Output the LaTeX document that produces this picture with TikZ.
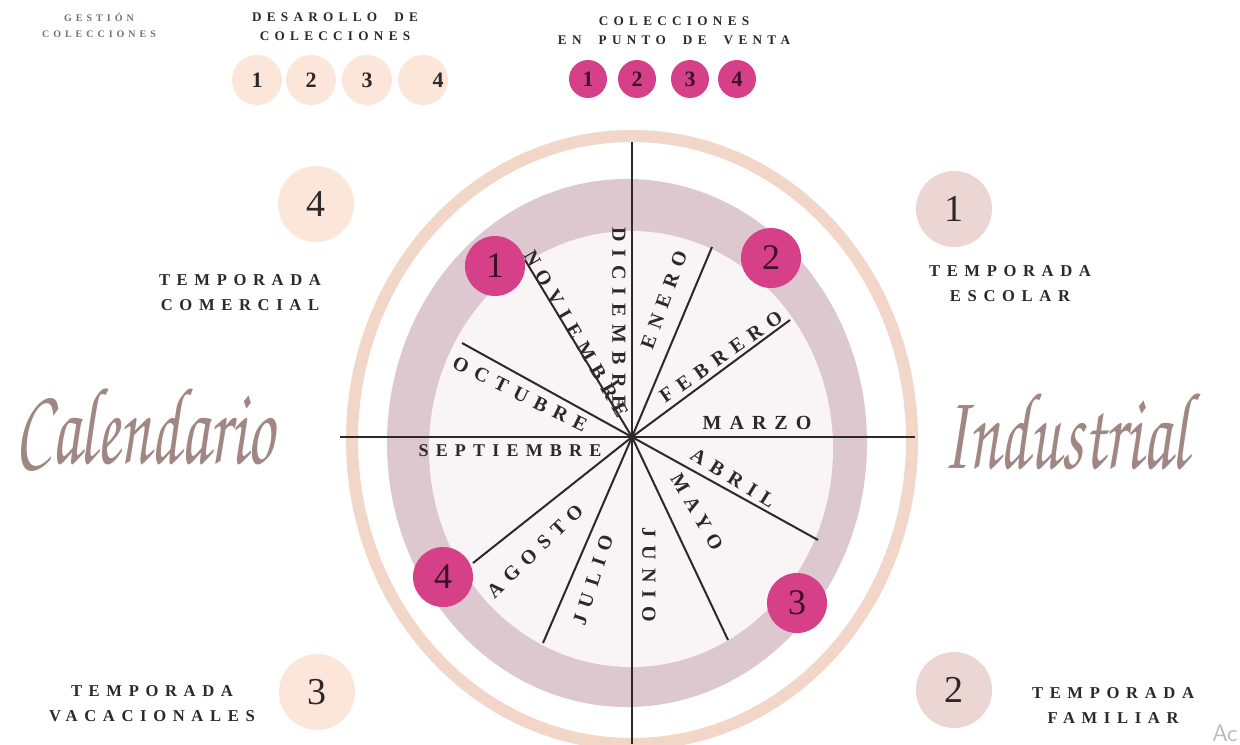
\documentclass[tikz,border=0pt]{standalone}
\usepackage[T1]{fontenc}
\usepackage{fontspec}
\setmainfont{Liberation Serif}
\newfontfamily\trackfont[LetterSpace=40]{Liberation Serif}
\newcommand\handfont{\fontencoding{T1}\fontfamily{pzc}\fontseries{mb}\fontshape{it}\selectfont}
\newcommand\wgap{\hspace{1.3em}}
\usetikzlibrary{positioning}
\definecolor{ink}{RGB}{45,40,42}
\definecolor{fog}{RGB}{120,110,110}
\definecolor{peach}{RGB}{242,214,200}
\definecolor{peachlt}{RGB}{252,230,218}
\definecolor{mauve}{RGB}{220,200,206}
\definecolor{mauvelt}{RGB}{236,214,212}
\definecolor{blush}{RGB}{249,245,246}
\definecolor{rosa}{RGB}{214,64,136}
\definecolor{plum}{RGB}{60,18,38}
\definecolor{quill}{RGB}{160,135,132}

\begin{document}
\begin{tikzpicture}[x=0.5pt,y=-0.5pt,
    spoke/.style={draw=ink,line width=1pt},
    month/.style={font=\fontsize{10}{10}\trackfont\bfseries,text=ink,inner sep=0pt},
    seasonlbl/.style={font=\fontsize{8.3}{12.5}\trackfont\bfseries,text=ink,align=center,inner sep=0pt},
    legendlbl/.style={font=\fontsize{6.6}{9.5}\trackfont\bfseries,text=ink,align=center,inner sep=0pt},
    dot/.style={circle,fill=rosa,inner sep=0pt,minimum size=30pt,text=plum,font=\fontsize{18}{18}\selectfont},
    season/.style={circle,inner sep=0pt,minimum size=38pt,text=ink,font=\fontsize{19}{19}\selectfont},
    chip/.style={circle,fill=peachlt,inner sep=0pt,minimum size=25pt,text=ink,font=\fontsize{11}{11}\selectfont\bfseries},
    pinchip/.style={circle,fill=rosa,inner sep=0pt,minimum size=19pt,text=plum,font=\fontsize{11}{11}\selectfont\bfseries},
    hand/.style={font=\fontsize{55}{55}\handfont,text=quill,xscale=0.62}]

  \useasboundingbox (0,0) rectangle (1240,744);
  \fill[white] (0,0) rectangle (1240,744);

  % wheel
  \coordinate (c) at (632,437);
  \draw[peach,line width=6pt] (632,440) ellipse [x radius=140pt,y radius=152pt];
  \fill[mauve] (627,443) ellipse [x radius=120pt,y radius=132pt];
  \fill[blush] (631,449) ellipse [x radius=101pt,y radius=109pt];

  \coordinate (west) at (340,437);
  \coordinate (east) at (915,437);
  \coordinate (north) at (632,142);
  \coordinate (south) at (632,744);
  \draw[spoke] (west) -- (east);
  \draw[spoke] (north) -- (south);
  \foreach \tip in {(712,247),(790,320),(818,540),(728,640),(543,643),(473,563),(462,343),(525,260)}
    \draw[spoke] (c) -- \tip;

  % months
  \node[month,rotate=-90] (dic) at (619,318) {DICIEMBRE};
  \node[month,rotate=70]  (ene) at (664,300) {ENERO};
  \node[month,rotate=35]  (feb) at (721,357) {FEBRERO};
  \node[month]            (mar) at (757,423) {MARZO};
  \node[month,rotate=-32] (abr) at (733,478) {ABRIL};
  \node[month,rotate=-60] (may) at (697,512) {MAYO};
  \node[month,rotate=-90] (jun) at (649,575) {JUNIO};
  \node[month,rotate=72]  (jul) at (593,580) {JULIO};
  \node[month,rotate=44]  (ago) at (535,551) {AGOSTO};
  \node[month,font=\fontsize{9}{9}\trackfont\bfseries] (sep) at (510,451) {SEPTIEMBRE};
  \node[month,rotate=-26] (oct) at (520,394) {OCTUBRE};
  \node[month,rotate=-60] (nov) at (576,334) {NOVIEMBRE};

  % collections at the point of sale
  \node[dot] (pv1) at (495,266) {1};
  \node[dot] (pv2) at (771,258) {2};
  \node[dot] (pv3) at (797,603) {3};
  \node[dot] (pv4) at (443,577) {4};

  % seasons
  \node[season,fill=peachlt] (t4) at (316,204) {4};
  \node[season,fill=mauvelt] (t1) at (954,209) {1};
  \node[season,fill=peachlt] (t3) at (317,692) {3};
  \node[season,fill=mauvelt] (t2) at (954,690) {2};
  \node[seasonlbl] (com) at (240,293) {TEMPORADA\\COMERCIAL};
  \node[seasonlbl] (esc) at (1010,284) {TEMPORADA\\ESCOLAR};
  \node[seasonlbl] (vac) at (152,704) {TEMPORADA\\VACACIONALES};
  \node[seasonlbl] (fam) at (1113,705) {TEMPORADA\\FAMILIAR};

  \node[hand] (cal) at (145,425) {Calendario};
  \node[hand] (ind) at (1065,430) {Industrial};

  % legend
  \node[font=\fontsize{5}{8}\trackfont\bfseries,text=fog,align=center,inner sep=0pt]
       (gest) at (99,25) {GESTIÓN\\COLECCIONES};
  \node[legendlbl] (desa) at (335,27) {DESAROLLO\wgap{}DE\\COLECCIONES};
  \foreach \n/\x in {1/257,2/311,3/367}
    \node[chip] (d\n) at (\x,80) {\n};
  \node[chip] (d4) at (423,80) {};
  \node[font=\fontsize{11}{11}\selectfont\bfseries,text=ink] (d4n) at (438,80) {4};

  \node[legendlbl] (venta) at (674,31) {COLECCIONES\\EN\wgap{}PUNTO\wgap{}DE\wgap{}VENTA};
  \foreach \n/\x in {1/588,2/637,3/690,4/737}
    \node[pinchip] (v\n) at (\x,79) {\n};

  \node[font=\sffamily\fontsize{12}{12}\selectfont,text=gray!55,anchor=south east,inner sep=1pt]
       (wm) at (1240,744) {Ac};
\end{tikzpicture}
\end{document}
